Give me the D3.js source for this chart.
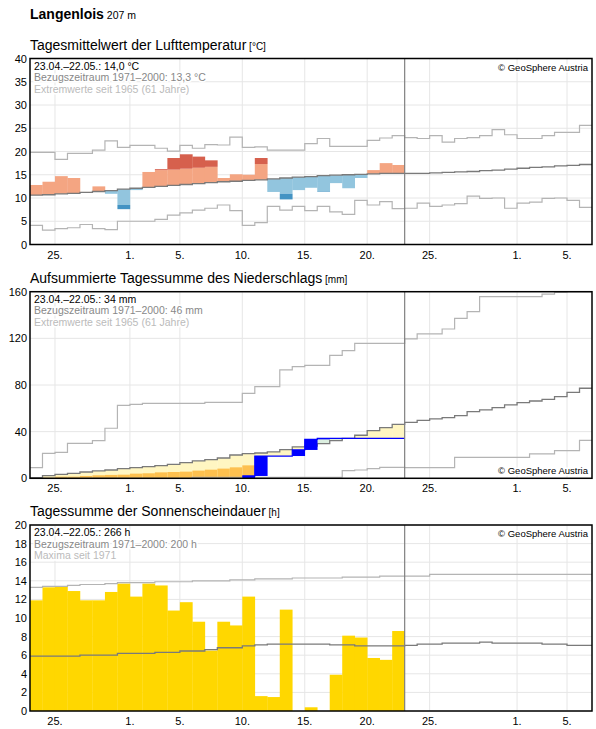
<!DOCTYPE html>
<html><head><meta charset="utf-8">
<script src="https://cdn.jsdelivr.net/npm/d3@7/dist/d3.min.js"></script>
<style>body{margin:0;background:#fff;font-family:"Liberation Sans",Arial,sans-serif}</style>
</head><body><svg id="c" width="596" height="729"></svg>
<script>
// ---- data ----
const nDays = 45; // 23.04 .. 06.06
const obsDays = 30; // 23.04 .. 22.05
const dateTicks = [{i:2,l:"25."},{i:8,l:"1."},{i:12,l:"5."},{i:17,l:"10."},{i:22,l:"15."},{i:27,l:"20."},{i:32,l:"25."},{i:39,l:"1."},{i:43,l:"5."}];

const tempActual = [12.8,13.5,14.7,14.3,11.3,12.5,10.9,7.6,11.7,15.6,16.2,18.6,19.4,18.9,18.1,14.3,15.1,15.0,18.6,11.3,9.7,11.7,12.2,11.3,13.2,12.1,14.3,16.0,17.5,17.1];
const tempMean = [10.6,10.7,10.9,11.0,11.2,11.4,11.6,11.9,12.1,12.3,12.5,12.7,12.9,13.1,13.3,13.5,13.6,13.8,13.9,14.1,14.3,14.5,14.6,14.8,14.9,15.0,15.1,15.2,15.3,15.3,15.3,15.3,15.4,15.5,15.6,15.7,15.9,16.0,16.2,16.4,16.6,16.7,16.9,17.0,17.2];
const tempUpper = [15.0,15.1,15.2,15.3,15.4,15.5,15.6,15.7,15.8,15.9,16.0,16.1,16.3,16.5,16.7,16.9,17.0,17.2,17.3,17.5,17.7,17.9,18.0,18.2,18.3,18.4,18.5,18.6,18.7,18.7];
const tempLower = [7.2,7.3,7.5,7.6,7.8,8.0,8.2,8.5,8.7,8.9,9.1,9.3,9.5,9.7,9.9,10.1,10.2,10.4,10.5,10.7,10.9,11.1,11.2,11.4,11.5,11.6,11.7,11.8,11.9,11.9];
const tempMax = [19.8,19.8,18.3,19.6,19.6,20.3,22.3,20.9,21.3,21.3,20.7,20.1,21.3,20.7,21.5,21.4,23.1,20.9,21.0,20.3,20.3,20.3,21.7,22.8,21.1,21.1,21.1,22.4,22.9,23.4,23.0,22.8,23.4,22.0,22.8,23.0,23.4,24.7,23.6,22.8,22.8,23.4,24.1,24.1,25.6];
const tempMin = [4.1,3.1,3.4,3.6,4.3,3.4,3.2,5.0,5.0,5.0,5.4,6.3,6.8,7.4,7.8,8.5,7.3,4.1,4.7,8.2,7.4,8.2,7.3,8.2,7.0,6.5,9.5,8.5,9.2,7.7,7.8,8.9,8.2,8.5,8.8,10.4,9.9,10.0,7.8,8.9,9.1,9.9,10.0,9.5,8.0];

const precCum = [0,0,0,0,0,0,0,0,0,0,0,0,0,0,0,0,0,2.0,19.1,19.1,19.1,24.3,33.4,34.3,34.3,34.3,34.3,34.3,34.3,34.3];
const precLow = [0.6,0.6,1.4,1.4,2.0,2.6,2.9,3.1,4.0,4.3,5.1,5.4,5.7,6.6,7.4,8.3,9.4,11.1];
const precMean = [0.6,2.3,3.4,4.3,5.4,6.3,7.1,8.3,9.1,10.0,10.9,12.0,13.4,14.9,16.0,17.4,20.0,21.1,21.7,22.6,24.6,26.9,27.7,29.7,32.3,34.3,36.9,40.9,43.4,46.3,48.0,49.7,50.9,52.0,53.7,57.1,58.6,60.6,62.9,64.9,66.3,67.7,70.0,73.7,77.2];
const precMax = [9.1,21.4,22.3,30.0,30.0,32.3,42.9,62.6,63.4,64.3,64.3,64.3,64.3,64.3,65.1,65.1,65.1,72.9,78.6,78.6,92.9,95.7,96.9,96.9,105.4,109.4,115.7,115.7,115.7,115.7,119.5,123.8,123.8,128.0,137.2,142.9,155.7,155.7,155.7,155.7,155.7,158.0,159.5,159.8,159.8];
const precMin = [0,0,0,0,0,0,0,0,0,0,0,0,0,0.9,0.9,0.9,0.9,0.9,0.9,0.9,0.9,0.9,0.9,0.9,0.9,6.6,7.1,8.3,9.4,9.4,9.1,9.1,9.1,9.1,18.0,18.0,18.0,18.0,18.0,18.0,20.9,20.9,23.7,23.7,32.6];

const sunActual = [11.9,13.3,13.4,12.9,11.9,11.9,12.8,13.7,12.3,13.7,13.5,10.8,11.7,9.6,6.5,9.6,9.2,12.3,1.6,1.5,10.9,0,0.4,0,3.9,8.1,7.9,5.7,5.5,8.6];
const sunMean = [5.9,5.9,5.9,5.9,6.0,6.0,6.0,6.2,6.2,6.2,6.3,6.3,6.45,6.45,6.6,6.8,6.8,7.0,7.1,7.2,7.2,7.2,7.2,7.2,7.1,7.1,7.0,7.0,7.0,7.0,7.05,7.2,7.2,7.3,7.3,7.3,7.4,7.3,7.3,7.3,7.3,7.2,7.2,7.05,7.05];
const sunMax = [13.3,13.4,13.4,13.5,13.6,13.6,13.7,13.8,13.8,13.8,13.9,13.9,13.9,14.0,14.0,14.0,14.1,14.1,14.2,14.2,14.2,14.3,14.3,14.3,14.3,14.4,14.4,14.4,14.5,14.5,14.5,14.5,14.7,14.7,14.7,14.7,14.7,14.7,14.7,14.7,14.7,14.7,14.7,14.7,14.7];

// ---- drawing ----
const svg = d3.select("#c");
const L = 30, R = 592;
const x = d3.scaleLinear().domain([0, nDays]).range([L, R]);

svg.append("text").attr("x",30).attr("y",19).attr("font-size",14).attr("font-weight","bold").text("Langenlois")
  .append("tspan").attr("font-weight","normal").attr("font-size",10.5).text(" 207 m");

function panel(top, bottom, dom, ticks, title, unit, legend, copyTop) {
  const y = d3.scaleLinear().domain(dom).range([bottom, top]);
  const g = svg.append("g");
  g.append("text").attr("x",30).attr("y",top-9).attr("font-size",14).text(title)
    .append("tspan").attr("font-size",10).text(" ["+unit+"]");
  g.selectAll(null).data(ticks).enter().append("line")
    .attr("x1",L).attr("x2",R).attr("y1",d=>y(d)).attr("y2",d=>y(d)).attr("stroke","#e6e6e6");
  g.selectAll(null).data(dateTicks).enter().append("line")
    .attr("x1",d=>x(d.i)).attr("x2",d=>x(d.i)).attr("y1",top).attr("y2",bottom).attr("stroke","#e6e6e6");
  g.selectAll(null).data(ticks).enter().append("text")
    .attr("x",L-3).attr("y",d=>y(d)+4).attr("text-anchor","end").attr("font-size",11).text(d=>d);
  g.selectAll(null).data(dateTicks).enter().append("text")
    .attr("x",d=>x(d.i)).attr("y",bottom+14).attr("text-anchor","middle").attr("font-size",11).text(d=>d.l);
  const layer = svg.append("g");
  const over = svg.append("g");
  const cols = ["#000","#888","#bbb"];
  legend.forEach((t,k)=>over.append("text").attr("x",34).attr("y",top+11+k*11.7).attr("font-size",10.5)
    .attr("fill",cols[k]).attr("stroke","#fff").attr("stroke-width",3).attr("paint-order","stroke").text(t));
  over.append("text").attr("x",R-4).attr("y",copyTop? top+12 : bottom-4).attr("text-anchor","end").attr("font-size",9.5)
    .attr("stroke","#fff").attr("stroke-width",3).attr("paint-order","stroke").text("© GeoSphere Austria");
  over.append("line").attr("x1",x(obsDays)).attr("x2",x(obsDays)).attr("y1",top).attr("y2",bottom).attr("stroke","#808080").attr("stroke-width",1.2);
  over.append("rect").attr("x",L).attr("y",top).attr("width",R-L).attr("height",bottom-top).attr("fill","none").attr("stroke","#000").attr("stroke-width",1.5);
  return {y, layer, over};
}
function step(g, y, arr, color, w, start) {
  start = start||0;
  const pts = arr.map((v,i)=>[i,v]).slice(start); pts.push([arr.length, arr[arr.length-1]]);
  g.append("path").attr("d", d3.line().x(d=>x(d[0])).y(d=>y(d[1])).curve(d3.curveStepAfter)(pts))
    .attr("fill","none").attr("stroke",color).attr("stroke-width",w||1.3);
}
function bar(g, i, y, a, b, color) {
  if (Math.abs(a-b) < 1e-6) return;
  g.append("rect").attr("x",x(i)).attr("width",x(i+1)-x(i)+0.3)
    .attr("y",y(Math.max(a,b))).attr("height",Math.abs(y(a)-y(b))).attr("fill",color);
}

{
  const p = panel(58.5, 244.5, [0,40], d3.range(0,41,5), "Tagesmittelwert der Lufttemperatur", "°C",
    ["23.04.–22.05.: 14,0 °C","Bezugszeitraum 1971–2000: 13,3 °C","Extremwerte seit 1965 (61 Jahre)"], true);
  tempActual.forEach((a,i)=>{
    const m = tempMean[i];
    if (a > m) {
      bar(p.layer,i,p.y,m,Math.min(a,tempUpper[i]),"#f4a582");
      if (a > tempUpper[i]) bar(p.layer,i,p.y,tempUpper[i],a,"#d6604d");
    } else {
      bar(p.layer,i,p.y,Math.max(a,tempLower[i]),m,"#92c5de");
      if (a < tempLower[i]) bar(p.layer,i,p.y,a,tempLower[i],"#4393c3");
    }
  });
  step(p.layer,p.y,tempMax,"#b4b4b4",1.2);
  step(p.layer,p.y,tempMin,"#b4b4b4",1.2);
  step(p.layer,p.y,tempMean,"#7a7a7a",1.3);
}
{
  const p = panel(291.7, 478.3, [0,160], [0,40,80,120,160], "Aufsummierte Tagessumme des Niederschlags", "mm",
    ["23.04.–22.05.: 34 mm","Bezugszeitraum 1971–2000: 46 mm","Extremwerte seit 1965 (61 Jahre)"], false);
  precCum.forEach((a,i)=>{
    const m = precMean[i];
    if (a < m) {
      bar(p.layer,i,p.y,a,m,"#fff6c2");
      if (i < precLow.length && a < precLow[i]) bar(p.layer,i,p.y,a,precLow[i],"#fdc04f");
    } else bar(p.layer,i,p.y,m,a,"#dcefe0");
  });
  step(p.layer,p.y,precMax,"#b4b4b4",1.2);
  step(p.layer,p.y,precMin,"#b4b4b4",1.2);
  step(p.layer,p.y,precMean,"#7a7a7a",1.3);
  step(p.layer,p.y,precCum,"#0000ff",1.2,17);
  precCum.forEach((a,i)=>{ const prev = i? precCum[i-1] : 0; if (a>prev) bar(p.layer,i,p.y,prev,a,"#0000ff"); });
}
{
  const p = panel(525, 711, [0,20], d3.range(0,21,2), "Tagessumme der Sonnenscheindauer", "h",
    ["23.04.–22.05.: 266 h","Bezugszeitraum 1971–2000: 200 h","Maxima seit 1971"], true);
  sunActual.forEach((a,i)=>bar(p.layer,i,p.y,0,a,"#ffd700"));
  step(p.layer,p.y,sunMax,"#b4b4b4",1.2);
  step(p.layer,p.y,sunMean,"#7a7a7a",1.3);
}
</script></body></html>
